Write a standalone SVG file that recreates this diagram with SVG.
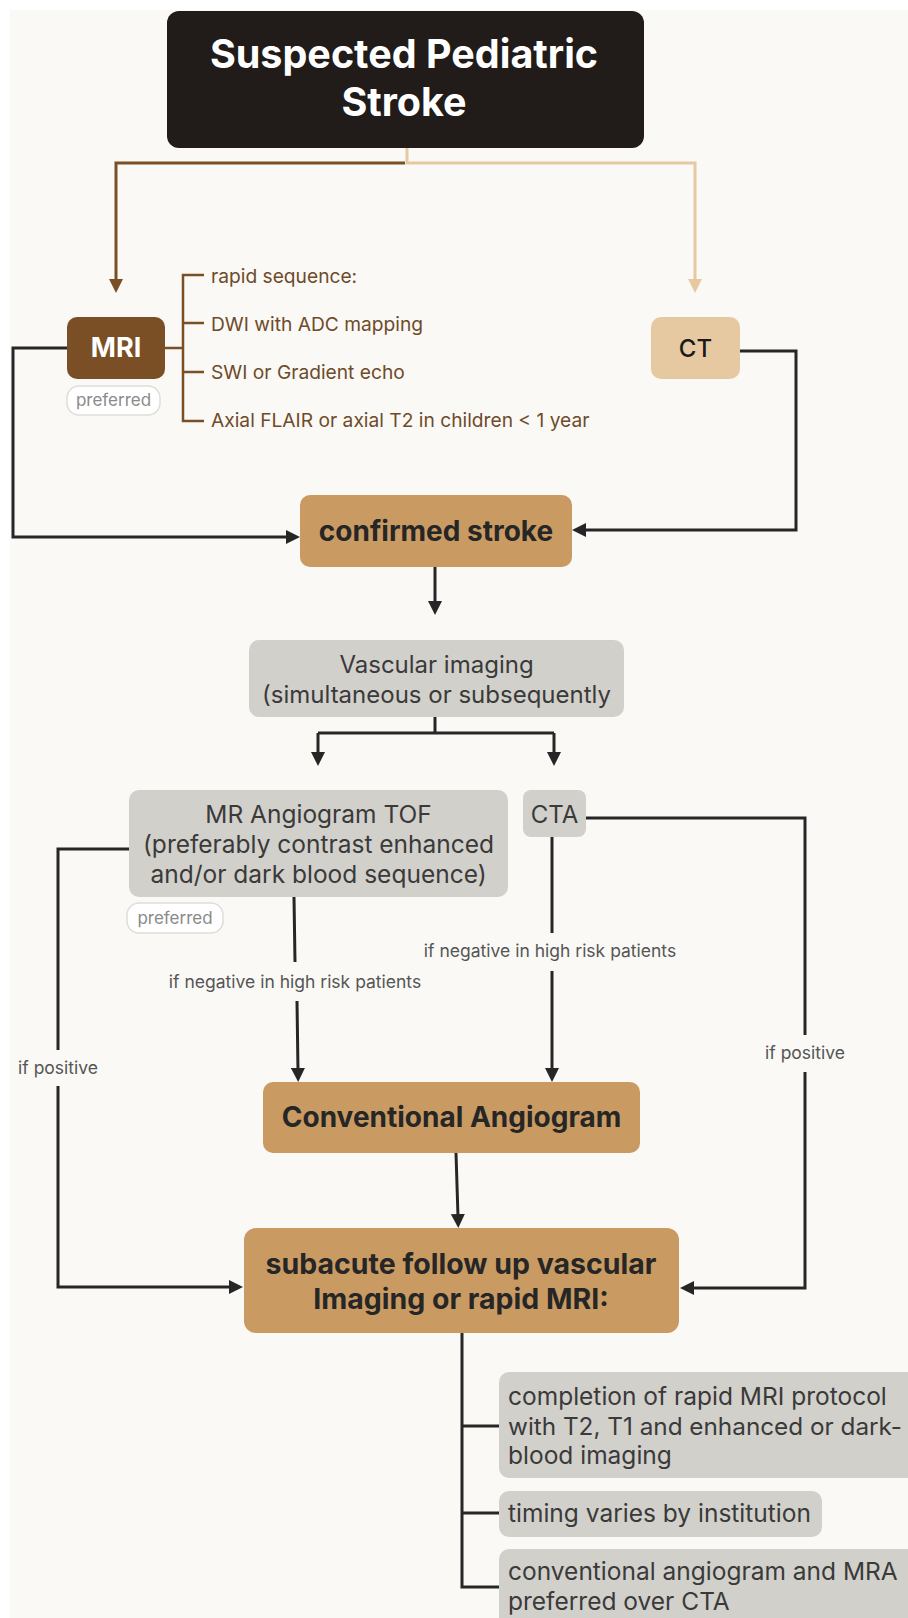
<svg xmlns="http://www.w3.org/2000/svg" width="908" height="1618" viewBox="0 0 908 1618">
<defs>
<style>
text{font-family:Inter,"Open Sans","Liberation Sans",sans-serif}
.c{text-anchor:middle}
.dk{fill:#262626}
.bold{font-weight:700}
.grey{fill:#d2d0cb}
.tan{fill:#c99b63}
.gt{fill:#3a3a3a}
.lab{font-size:17.5px;fill:#555555;text-anchor:middle}
.pill{fill:#ffffff;stroke:#e0ddd8;stroke-width:1.5}
.pt{font-size:17px;fill:#8a8a8a;text-anchor:middle}
.br{font-size:19.2px;fill:#6e4b2a}
.ln{fill:none;stroke:#262626;stroke-width:3}
</style>
<marker id="ab" viewBox="0 0 14 14" markerWidth="14" markerHeight="14" refX="3" refY="7" orient="auto" markerUnits="userSpaceOnUse"><path d="M0,0 L14,7 L0,14 z" fill="#262626"/></marker>
<marker id="am" viewBox="0 0 14 14" markerWidth="14" markerHeight="14" refX="3" refY="7" orient="auto" markerUnits="userSpaceOnUse"><path d="M0,0 L14,7 L0,14 z" fill="#7b4f25"/></marker>
<marker id="al" viewBox="0 0 14 14" markerWidth="14" markerHeight="14" refX="3" refY="7" orient="auto" markerUnits="userSpaceOnUse"><path d="M0,0 L14,7 L0,14 z" fill="#e7c9a1"/></marker>
</defs>
<rect x="0" y="0" width="908" height="1618" fill="#ffffff"/>
<rect x="10" y="10" width="898" height="1608" fill="#faf9f5"/>

<g id="connectors">
<path d="M407 148 V163 H695 V282" fill="none" stroke="#e7c9a1" stroke-width="3" marker-end="url(#al)"/>
<path d="M405 163 H116 V282" fill="none" stroke="#7b4f25" stroke-width="3" marker-end="url(#am)"/>
<path d="M165 348 H183 M204 275 H183 V421 H204 M183 323 H204 M183 372 H204" fill="none" stroke="#7b4f25" stroke-width="2.5"/>
<path class="ln" d="M67 348 H13 V537 H289" marker-end="url(#ab)"/>
<path class="ln" d="M740 351 H796 V530 H583" marker-end="url(#ab)"/>
<path class="ln" d="M435 567 V604" marker-end="url(#ab)"/>
<path class="ln" d="M435 717 V733 M318 733 H554"/>
<path class="ln" d="M318 733 V755" marker-end="url(#ab)"/>
<path class="ln" d="M554 733 V755" marker-end="url(#ab)"/>
<path class="ln" d="M129 849 H58 V1050"/>
<path class="ln" d="M58 1086 V1287 H232" marker-end="url(#ab)"/>
<path class="ln" d="M586 818 H805 V1035"/>
<path class="ln" d="M805 1072 V1288 H691" marker-end="url(#ab)"/>
<path class="ln" d="M294 897 L295 962"/>
<path class="ln" d="M297 1001 L298 1071" marker-end="url(#ab)"/>
<path class="ln" d="M552 837 V933"/>
<path class="ln" d="M552 971 V1071" marker-end="url(#ab)"/>
<path class="ln" d="M456 1153 L458 1217" marker-end="url(#ab)"/>
<path class="ln" d="M462 1333 V1587 H500 M462 1426 H500 M462 1513 H500"/>
<text class="lab" x="58" y="1074">if positive</text>
<text class="lab" x="805" y="1059">if positive</text>
<text class="lab" x="295" y="988">if negative in high risk patients</text>
<text class="lab" x="550" y="957">if negative in high risk patients</text>
</g>

<g id="n-suspected">
<rect x="167" y="11" width="477" height="137" rx="12" fill="#211b19"/>
<text class="c bold" x="404" y="68" font-size="39.5" fill="#ffffff">Suspected Pediatric</text>
<text class="c bold" x="404" y="116" font-size="39.5" fill="#ffffff">Stroke</text>
</g>

<g id="n-mri">
<rect x="67" y="317" width="98" height="62" rx="10" fill="#7b4f25"/>
<text class="c bold" x="116" y="357" font-size="27" fill="#ffffff">MRI</text>
<rect class="pill" x="67" y="386" width="93" height="29" rx="12"/>
<text class="pt" x="113.5" y="406">preferred</text>
</g>

<g id="n-mri-seq">
<text class="br" x="211" y="283">rapid sequence:</text>
<text class="br" x="211" y="331">DWI with ADC mapping</text>
<text class="br" x="211" y="379">SWI or Gradient echo</text>
<text class="br" x="211" y="427">Axial FLAIR or axial T2 in children &lt; 1 year</text>
</g>

<g id="n-ct">
<rect x="651" y="317" width="89" height="62" rx="10" fill="#e7c9a1"/>
<text class="c" x="695.5" y="357" font-size="24" font-weight="500" fill="#1a1a1a">CT</text>
</g>

<g id="n-confirmed">
<rect class="tan" x="300" y="495" width="272" height="72" rx="10"/>
<text class="c bold dk" x="436" y="541" font-size="28">confirmed stroke</text>
</g>

<g id="n-vascular">
<rect class="grey" x="249" y="640" width="375" height="77" rx="10"/>
<text class="c gt" x="436.5" y="673" font-size="24">Vascular imaging</text>
<text class="c gt" x="436.5" y="703" font-size="24">(simultaneous or subsequently</text>
</g>

<g id="n-mra">
<rect class="grey" x="129" y="790" width="379" height="107" rx="10"/>
<text class="c gt" x="318.5" y="823" font-size="24.5">MR Angiogram TOF</text>
<text class="c gt" x="318.5" y="853" font-size="24.5">(preferably contrast enhanced</text>
<text class="c gt" x="318.5" y="883" font-size="24.5">and/or dark blood sequence)</text>
<rect class="pill" x="127" y="903" width="96" height="30" rx="12"/>
<text class="pt" x="175" y="924">preferred</text>
</g>

<g id="n-cta">
<rect class="grey" x="523" y="790" width="63" height="47" rx="8"/>
<text class="c gt" x="554.5" y="823" font-size="24">CTA</text>
</g>

<g id="n-conventional">
<rect class="tan" x="263" y="1082" width="377" height="71" rx="10"/>
<text class="c bold dk" x="451.5" y="1127" font-size="28">Conventional Angiogram</text>
</g>

<g id="n-subacute">
<rect class="tan" x="244" y="1228" width="435" height="105" rx="12"/>
<text class="c bold dk" x="461" y="1274" font-size="28.5">subacute follow up vascular</text>
<text class="c bold dk" x="461" y="1309" font-size="28.5">Imaging or rapid MRI:</text>
</g>

<g id="n-completion">
<rect class="grey" x="499" y="1372" width="430" height="106" rx="10"/>
<text class="gt" x="508" y="1405" font-size="24.5">completion of rapid MRI protocol</text>
<text class="gt" x="508" y="1435" font-size="24" textLength="394" lengthAdjust="spacingAndGlyphs">with T2, T1 and enhanced or dark-</text>
<text class="gt" x="508" y="1464" font-size="24.5">blood imaging</text>
</g>

<g id="n-timing">
<rect class="grey" x="499" y="1491" width="323" height="46" rx="10"/>
<text class="gt" x="508" y="1522" font-size="24.5">timing varies by institution</text>
</g>

<g id="n-conv-mra">
<rect class="grey" x="499" y="1549" width="430" height="100" rx="10"/>
<text class="gt" x="508" y="1580" font-size="24.5">conventional angiogram and MRA</text>
<text class="gt" x="508" y="1610" font-size="24.5">preferred over CTA</text>
</g>
</svg>
